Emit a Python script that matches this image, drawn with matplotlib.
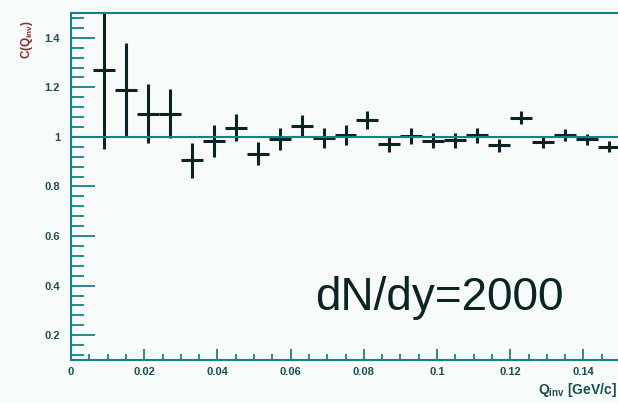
import numpy as np
import matplotlib
matplotlib.use("Agg")
import matplotlib.pyplot as plt
from matplotlib.ticker import MultipleLocator, FuncFormatter

# Q_inv bin centres [GeV/c], correlation C(Q_inv) and its errors
q_inv = [0.009, 0.015, 0.021, 0.027, 0.033, 0.039, 0.045, 0.051,
         0.057, 0.063, 0.069, 0.075, 0.081, 0.087, 0.093, 0.099,
         0.105, 0.111, 0.117, 0.123, 0.129, 0.135, 0.141, 0.147]
c_val = [1.27, 1.19, 1.094, 1.094, 0.906, 0.984, 1.038, 0.933,
         0.993, 1.044, 0.995, 1.007, 1.069, 0.973, 1.004, 0.984,
         0.987, 1.007, 0.966, 1.078, 0.98, 1.007, 0.99, 0.96]
c_err = [0.32, 0.19, 0.12, 0.10, 0.07, 0.066, 0.055, 0.048,
         0.045, 0.044, 0.04, 0.04, 0.037, 0.032, 0.032, 0.03,
         0.03, 0.03, 0.025, 0.025, 0.025, 0.025, 0.022, 0.022]
bin_half = 0.003

axis_col = "#128484"
data_col = "#0a2424"

plt.rcParams['font.family'] = ['Liberation Sans', 'DejaVu Sans']
plt.rcParams['mathtext.default'] = 'regular'

fig = plt.figure(figsize=(6.18, 4.03), dpi=100)
fig.patch.set_facecolor("#f7fbf9")
ax = fig.add_axes([71/618, 43/403, 549/618, 347/403])
ax.set_facecolor("#f7fbf9")

ax.errorbar(q_inv, c_val, yerr=c_err, xerr=bin_half, fmt='none',
            ecolor=data_col, elinewidth=2.2, capsize=0, clip_on=True)
ax.axhline(1, color=axis_col, linewidth=1.5)

ax.set_xlim(0, 0.15)
ax.set_ylim(0.1, 1.5)

for side in ['left', 'bottom', 'top']:
    ax.spines[side].set_color(axis_col)
    ax.spines[side].set_linewidth(1.5)
ax.spines['right'].set_visible(False)

ax.xaxis.set_major_locator(MultipleLocator(0.02))
ax.xaxis.set_minor_locator(MultipleLocator(0.005))
ax.yaxis.set_minor_locator(MultipleLocator(0.04))
ax.set_yticks([0.2, 0.4, 0.6, 0.8, 1.0, 1.2, 1.4])

fmt = FuncFormatter(lambda v, p: ('%g' % round(v, 3)))
ax.xaxis.set_major_formatter(fmt)
ax.yaxis.set_major_formatter(fmt)

ax.tick_params(axis='both', which='both', direction='in', color=axis_col,
               width=1.3, labelcolor="#1a5050", labelsize=8)
ax.tick_params(axis='y', which='major', length=17, pad=8)
ax.tick_params(axis='y', which='minor', length=9)
ax.tick_params(axis='x', which='major', length=8, pad=5)
ax.tick_params(axis='x', which='minor', length=4)
for lab in ax.get_xticklabels() + ax.get_yticklabels():
    lab.set_fontweight('bold')

fig.text(27/618, 1 - 39/403, r'C(Q$_{inv}$)', rotation=90, ha='center',
         va='center', fontsize=8.5, color="#8a2c2c", fontweight='bold')
fig.text(617/618, 1 - 390/403, r'Q$_{inv}$ [GeV/c]', ha='right',
         va='center', fontsize=10, color="#1a5050", fontweight='bold')

ax.text(0.1007, 0.351, 'dN/dy=2000', ha='center', va='center',
        fontsize=33, color=data_col)

fig.savefig("out.png", dpi=100, facecolor=fig.get_facecolor())
